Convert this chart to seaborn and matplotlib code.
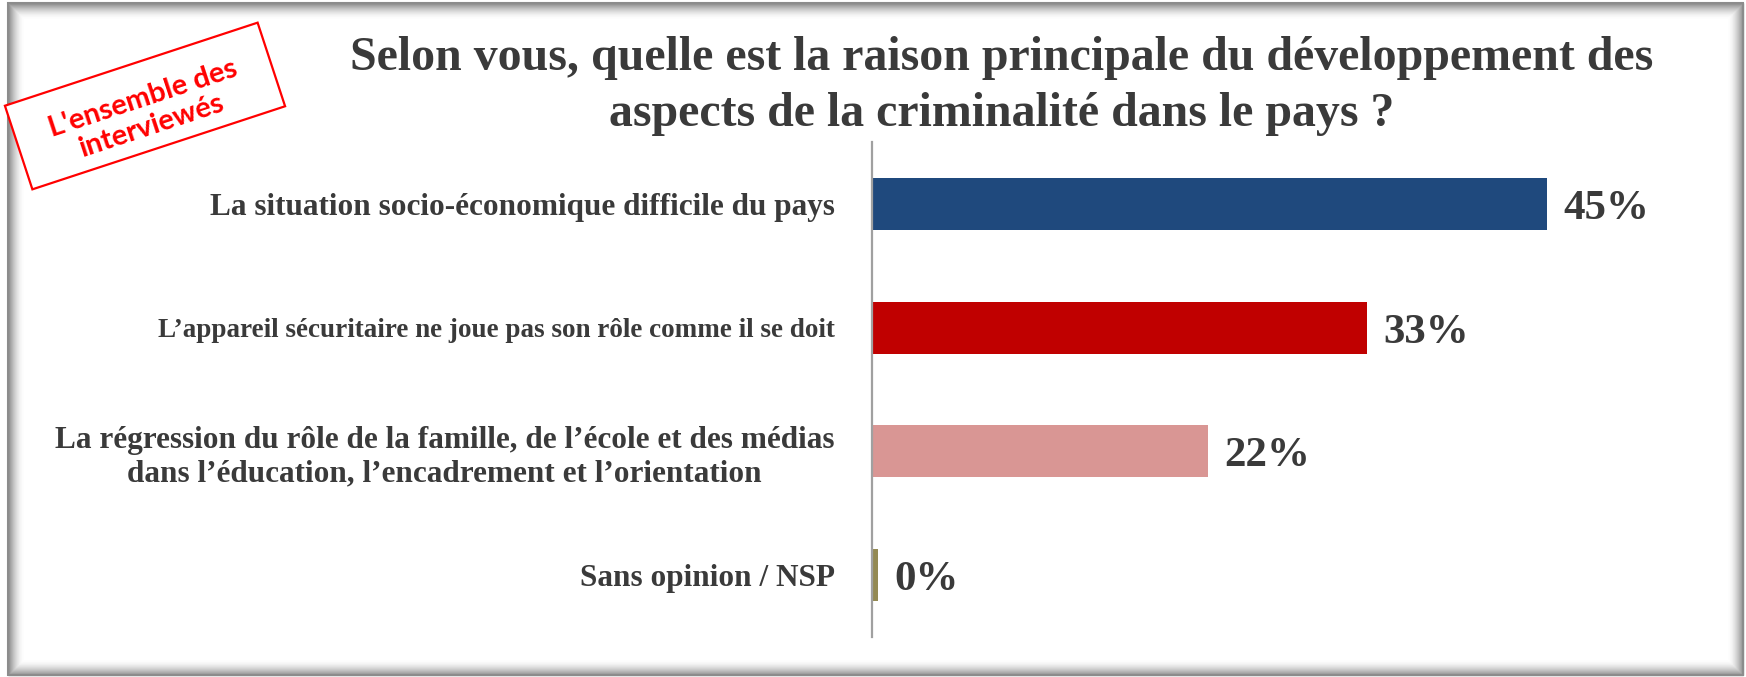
import matplotlib
matplotlib.use("Agg")
import matplotlib.pyplot as plt
import matplotlib.patches as mpatches
import matplotlib.transforms as mtrans
import seaborn as sns
import pandas as pd

categories = [
    "La situation socio-économique difficile du pays",
    "L\u2019appareil sécuritaire ne joue pas son rôle comme il se doit",
    "La régression du rôle de la famille, de l\u2019école et des médias\ndans l\u2019éducation, l\u2019encadrement et l\u2019orientation",
    "Sans opinion / NSP",
]
values = [45.0, 33.0, 22.4, 0.4]
bar_colors = ["#1F497D", "#C00000", "#D99694", "#948A54"]
label_sizes = [22.5, 19.5, 22.5, 22.5]
title = "Selon vous, quelle est la raison principale du développement des\naspects de la criminalité dans le pays ?"
stamp_text = "L'ensemble des\ninterviewés"

sns.set_theme(style="white")
plt.rcParams["font.family"] = ["Liberation Serif", "DejaVu Serif"]

W, H = 1746, 677
fig = plt.figure(figsize=(W / 100, H / 100), dpi=100)
fig.patch.set_facecolor("white")

ax_left, ax_right, ax_top, ax_bottom = 872, 1700, 142, 637
ax = fig.add_axes([ax_left / W, 1 - ax_bottom / H, (ax_right - ax_left) / W, (ax_bottom - ax_top) / H])

df = pd.DataFrame({"cat": categories, "val": values})
sns.barplot(data=df, x="val", y="cat", hue="cat", palette=bar_colors, legend=False,
            orient="h", width=0.42, ax=ax, saturation=1, edgecolor="none")

px_per_unit = 15.0
ax.set_xlim(0, (ax_right - ax_left) / px_per_unit)
ax.set_ylim(3.5, -0.5)
ax.set_xlabel("")
ax.set_ylabel("")
ax.set_xticks([])
for s in ["top", "right", "bottom"]:
    ax.spines[s].set_visible(False)
ax.spines["left"].set_color("#A0A0A0")
ax.spines["left"].set_linewidth(1.6)
ax.tick_params(axis="y", length=0, pad=27)
for lbl, fs in zip(ax.get_yticklabels(), label_sizes):
    lbl.set_fontsize(fs)
    lbl.set_fontweight("bold")
    lbl.set_color("#3A3A3A")
    lbl.set_multialignment("center")
ax.set_facecolor("none")

for i, v in enumerate(values):
    ax.text(v + 16 / px_per_unit, i + 0.04, f"{round(v):.0f}%", va="center", ha="left",
            fontsize=31, fontweight="bold", color="#3A3A3A")

fig.text(1002 / W, 1 - 86 / H, title, ha="center", va="center", fontsize=34.5,
         fontweight="bold", color="#3A3A3A", linespacing=1.38)

pix = mtrans.Affine2D().scale(1 / W, 1 / H) + fig.transFigure

def py(y):
    return H - y

# frame with inner shadow
x0, y0, x1, y1 = 8, 3, 1743, 675
for i in range(16):
    a = 0.7 * (1 - i / 16) ** 2
    r = mpatches.Rectangle((x0 + i, py(y1) + i), (x1 - x0) - 2 * i, (y1 - y0) - 2 * i,
                           fill=False, edgecolor=(0.42, 0.42, 0.42, a), linewidth=1.0,
                           transform=pix)
    fig.add_artist(r)
fig.add_artist(mpatches.Rectangle((x0, py(y1)), x1 - x0, y1 - y0, fill=False,
                                  edgecolor="#8C8C8C", linewidth=1.5, transform=pix))

# stamp
cx, cy, ang = 145, 106, 18.2
sw, sh = 266, 88
rot = mtrans.Affine2D().rotate_deg_around(cx, py(cy), ang) + pix
stamp = mpatches.Rectangle((cx - sw / 2, py(cy) - sh / 2), sw, sh, fill=True,
                           facecolor="white", edgecolor="#FF0000", linewidth=1.6, transform=rot)
fig.add_artist(stamp)
fig.text(147 / W, 1 - 112 / H, stamp_text, ha="center", va="center", rotation=ang,
         rotation_mode="anchor", fontsize=21, fontweight="bold", color="#FF0000",
         family=["Lato", "DejaVu Sans"], linespacing=1.1)

fig.savefig("out.png", dpi=100, facecolor="white")
